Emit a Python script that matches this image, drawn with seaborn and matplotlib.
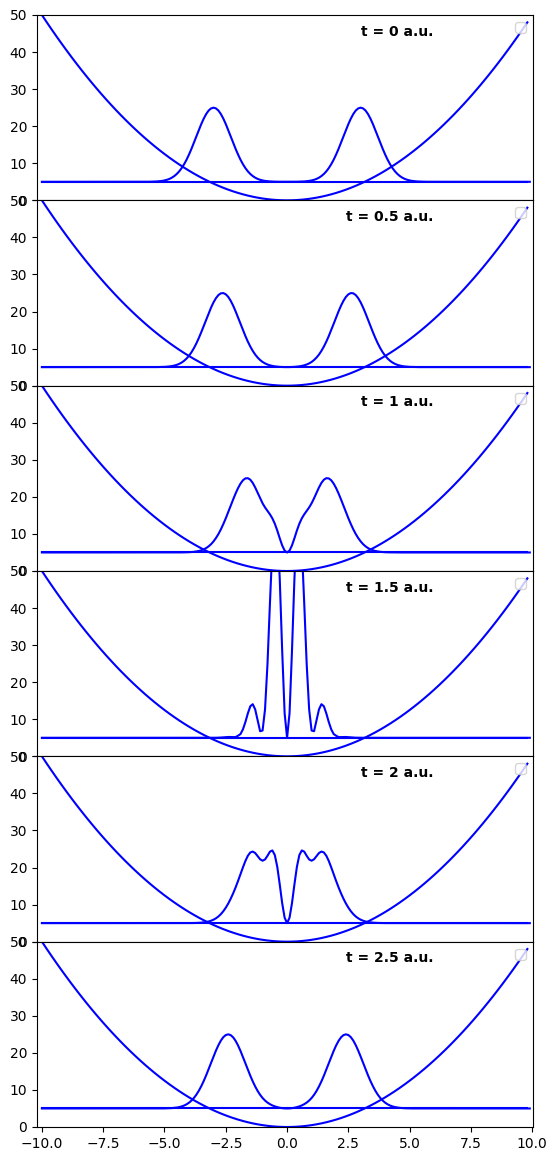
import numpy as np
import matplotlib
matplotlib.use("Agg")
import matplotlib.pyplot as plt
import seaborn as sns

# ---------------- data ----------------
# grid of the potential curve (a.u.)
x_pot = np.round(np.arange(-10.0, 10.0, 0.2), 1)
# grid of the density curves (a.u.)
x_den = np.round(np.arange(-10.0, 10.0, 0.1), 1)

# harmonic potential V(x)
potential = [50.0, 48.02, 46.08, 44.18, 42.32, 40.5, 38.72, 36.98, 35.28, 33.62,
             32.0, 30.42, 28.88, 27.38, 25.92, 24.5, 23.12, 21.78, 20.48, 19.22,
             18.0, 16.82, 15.68, 14.58, 13.52, 12.5, 11.52, 10.58, 9.68, 8.82,
             8.0, 7.22, 6.48, 5.78, 5.12, 4.5, 3.92, 3.38, 2.88, 2.42,
             2.0, 1.62, 1.28, 0.98, 0.72, 0.5, 0.32, 0.18, 0.08, 0.02,
             0.0, 0.02, 0.08, 0.18, 0.32, 0.5, 0.72, 0.98, 1.28, 1.62,
             2.0, 2.42, 2.88, 3.38, 3.92, 4.5, 5.12, 5.78, 6.48, 7.22,
             8.0, 8.82, 9.68, 10.58, 11.52, 12.5, 13.52, 14.58, 15.68, 16.82,
             18.0, 19.22, 20.48, 21.78, 23.12, 24.5, 25.92, 27.38, 28.88, 30.42,
             32.0, 33.62, 35.28, 36.98, 38.72, 40.5, 42.32, 44.18, 46.08, 48.02]

energy_level = 5.0

times = ["0", "0.5", "1", "1.5", "2", "2.5"]

# flat tails of the density (x = -10.0 .. -6.1 and 6.1 .. 9.9)
flat_left = [5.0] * 40
flat_right = [5.0] * 39

# density (offset by the energy level), x = -6.0 .. 6.0 in steps of 0.1
core_t0 = [
    5.00, 5.00, 5.01, 5.01, 5.02, 5.04, 5.06, 5.10, 5.16, 5.24,
    5.37, 5.54, 5.78, 6.11, 6.55, 7.11, 7.82, 8.69, 9.74, 10.96,
    12.36, 13.90, 15.55, 17.25, 18.95, 20.58, 22.04, 23.28, 24.22, 24.80,
    25.00, 24.80, 24.22, 23.28, 22.04, 20.58, 18.95, 17.25, 15.55, 13.90,
    12.36, 10.96, 9.74, 8.69, 7.82, 7.11, 6.55, 6.11, 5.78, 5.54,
    5.37, 5.24, 5.16, 5.10, 5.06, 5.04, 5.02, 5.01, 5.01, 5.00,
    5.00,
    5.00, 5.01, 5.01, 5.02, 5.04, 5.06, 5.10, 5.16, 5.24, 5.37,
    5.54, 5.78, 6.11, 6.55, 7.11, 7.82, 8.69, 9.74, 10.96, 12.36,
    13.90, 15.55, 17.25, 18.95, 20.58, 22.04, 23.28, 24.22, 24.80, 25.00,
    24.80, 24.22, 23.28, 22.04, 20.58, 18.95, 17.25, 15.55, 13.90, 12.36,
    10.96, 9.74, 8.69, 7.82, 7.11, 6.55, 6.11, 5.78, 5.54, 5.37,
    5.24, 5.16, 5.10, 5.06, 5.04, 5.02, 5.01, 5.01, 5.00, 5.00]

core_t05 = [
    5.00, 5.00, 5.00, 5.00, 5.00, 5.01, 5.01, 5.02, 5.03, 5.05,
    5.07, 5.12, 5.18, 5.28, 5.42, 5.61, 5.88, 6.24, 6.71, 7.32,
    8.08, 9.01, 10.12, 11.40, 12.85, 14.43, 16.10, 17.81, 19.50, 21.08,
    22.48, 23.62, 24.45, 24.91, 24.98, 24.65, 23.95, 22.90, 21.59, 20.06,
    18.40, 16.69, 15.00, 13.38, 11.88, 10.54, 9.38, 8.39, 7.58, 6.92,
    6.40, 6.01, 5.71, 5.49, 5.33, 5.21, 5.13, 5.07, 5.03, 5.01,
    5.00,
    5.01, 5.03, 5.07, 5.13, 5.21, 5.33, 5.49, 5.71, 6.01, 6.40,
    6.92, 7.58, 8.39, 9.38, 10.54, 11.88, 13.38, 15.00, 16.69, 18.40,
    20.06, 21.59, 22.90, 23.95, 24.65, 24.98, 24.91, 24.45, 23.62, 22.48,
    21.08, 19.50, 17.81, 16.10, 14.43, 12.85, 11.40, 10.12, 9.01, 8.08,
    7.32, 6.71, 6.24, 5.88, 5.61, 5.42, 5.28, 5.18, 5.12, 5.07,
    5.05, 5.03, 5.02, 5.01, 5.01, 5.00, 5.00, 5.00, 5.00, 5.00]

core_t1 = [
    5.00, 5.00, 5.00, 5.00, 5.00, 5.00, 5.00, 5.00, 5.00, 5.00,
    5.00, 5.00, 5.00, 5.00, 5.00, 5.01, 5.01, 5.02, 5.03, 5.04,
    5.07, 5.11, 5.17, 5.27, 5.40, 5.59, 5.84, 6.19, 6.65, 7.24,
    7.99, 8.90, 9.98, 11.24, 12.67, 14.23, 15.89, 17.60, 19.30, 20.91,
    22.36, 23.58, 24.48, 24.98, 25.04, 24.63, 23.76, 22.53, 21.09, 19.62,
    18.27, 17.15, 16.20, 15.29, 14.20, 12.75, 10.91, 8.84, 6.90, 5.51,
    5.00,
    5.51, 6.90, 8.84, 10.91, 12.75, 14.20, 15.29, 16.20, 17.15, 18.27,
    19.62, 21.09, 22.53, 23.76, 24.63, 25.04, 24.98, 24.48, 23.58, 22.36,
    20.91, 19.30, 17.60, 15.89, 14.23, 12.67, 11.24, 9.98, 8.90, 7.99,
    7.24, 6.65, 6.19, 5.84, 5.59, 5.40, 5.27, 5.17, 5.11, 5.07,
    5.04, 5.03, 5.02, 5.01, 5.01, 5.00, 5.00, 5.00, 5.00, 5.00,
    5.00, 5.00, 5.00, 5.00, 5.00, 5.00, 5.00, 5.00, 5.00, 5.00]

core_t15 = [
    5.00, 5.00, 5.00, 5.00, 5.00, 5.00, 5.00, 5.00, 5.00, 5.00,
    5.00, 5.00, 5.00, 5.00, 5.00, 5.00, 5.00, 5.00, 5.00, 5.00,
    5.00, 5.00, 5.00, 5.00, 5.00, 5.00, 5.00, 5.00, 5.00, 5.00,
    5.01, 5.01, 5.03, 5.07, 5.12, 5.17, 5.22, 5.22, 5.19, 5.20,
    5.56, 6.01, 7.29, 9.26, 11.59, 13.51, 14.07, 12.64, 9.65, 6.77,
    6.96, 12.64, 24.82, 41.17, 56.58, 64.90, 61.88, 48.01, 28.47, 11.61,
    5.00,
    11.61, 28.47, 48.01, 61.88, 64.90, 56.58, 41.17, 24.82, 12.64, 6.96,
    6.77, 9.65, 12.64, 14.07, 13.51, 11.59, 9.26, 7.29, 6.01, 5.56,
    5.20, 5.19, 5.22, 5.22, 5.17, 5.12, 5.07, 5.03, 5.01, 5.01,
    5.00, 5.00, 5.00, 5.00, 5.00, 5.00, 5.00, 5.00, 5.00, 5.00,
    5.00, 5.00, 5.00, 5.00, 5.00, 5.00, 5.00, 5.00, 5.00, 5.00,
    5.00, 5.00, 5.00, 5.00, 5.00, 5.00, 5.00, 5.00, 5.00, 5.00]

core_t2 = [
    5.00, 5.00, 5.00, 5.00, 5.00, 5.00, 5.00, 5.00, 5.00, 5.00,
    5.00, 5.00, 5.00, 5.00, 5.00, 5.00, 5.00, 5.00, 5.00, 5.01,
    5.01, 5.02, 5.03, 5.05, 5.08, 5.13, 5.20, 5.30, 5.44, 5.65,
    5.93, 6.31, 6.80, 7.43, 8.22, 9.17, 10.29, 11.58, 13.03, 14.64,
    16.38, 18.22, 20.06, 21.78, 23.18, 24.07, 24.31, 23.91, 23.08, 22.23,
    21.84, 22.18, 23.16, 24.28, 24.61, 23.36, 20.18, 15.46, 10.39, 6.47,
    5.00,
    6.47, 10.39, 15.46, 20.18, 23.36, 24.61, 24.28, 23.16, 22.18, 21.84,
    22.23, 23.08, 23.91, 24.31, 24.07, 23.18, 21.78, 20.06, 18.22, 16.38,
    14.64, 13.03, 11.58, 10.29, 9.17, 8.22, 7.43, 6.80, 6.31, 5.93,
    5.65, 5.44, 5.30, 5.20, 5.13, 5.08, 5.05, 5.03, 5.02, 5.01,
    5.01, 5.00, 5.00, 5.00, 5.00, 5.00, 5.00, 5.00, 5.00, 5.00,
    5.00, 5.00, 5.00, 5.00, 5.00, 5.00, 5.00, 5.00, 5.00, 5.00]

core_t25 = [
    5.00, 5.00, 5.00, 5.00, 5.00, 5.00, 5.00, 5.00, 5.01, 5.01,
    5.02, 5.04, 5.06, 5.10, 5.16, 5.25, 5.37, 5.55, 5.79, 6.12,
    6.56, 7.13, 7.84, 8.72, 9.78, 11.01, 12.41, 13.95, 15.60, 17.31,
    19.01, 20.63, 22.09, 23.32, 24.24, 24.81, 25.00, 24.79, 24.19, 23.24,
    22.00, 20.52, 18.89, 17.19, 15.48, 13.83, 12.30, 10.92, 9.71, 8.68,
    7.83, 7.14, 6.59, 6.16, 5.82, 5.56, 5.36, 5.20, 5.09, 5.02,
    5.00,
    5.02, 5.09, 5.20, 5.36, 5.56, 5.82, 6.16, 6.59, 7.14, 7.83,
    8.68, 9.71, 10.92, 12.30, 13.83, 15.48, 17.19, 18.89, 20.52, 22.00,
    23.24, 24.19, 24.79, 25.00, 24.81, 24.24, 23.32, 22.09, 20.63, 19.01,
    17.31, 15.60, 13.95, 12.41, 11.01, 9.78, 8.72, 7.84, 7.13, 6.56,
    6.12, 5.79, 5.55, 5.37, 5.25, 5.16, 5.10, 5.06, 5.04, 5.02,
    5.01, 5.01, 5.00, 5.00, 5.00, 5.00, 5.00, 5.00, 5.00, 5.00]

cores = [core_t0, core_t05, core_t1, core_t15, core_t2, core_t25]

# ---------------- plot ----------------
fig, axes = plt.subplots(6, 1, sharex=True, figsize=(5.57, 11.58), dpi=100)
fig.subplots_adjust(left=37 / 557, right=533 / 557, top=1 - 15 / 1158,
                    bottom=1 - 1127 / 1158, hspace=0)

level_line = np.full(len(x_pot), energy_level)

for ax, t, core in zip(axes, times, cores):
    density = np.array(flat_left + core + flat_right)
    n = min(len(density), len(x_den))
    sns.lineplot(x=x_pot, y=potential, ax=ax, color="blue", linewidth=1.5,
                 estimator=None, errorbar=None, sort=False)
    sns.lineplot(x=x_pot, y=level_line, ax=ax, color="blue", linewidth=1.5,
                 estimator=None, errorbar=None, sort=False)
    sns.lineplot(x=x_den[:n], y=density[:n], ax=ax, color="blue", linewidth=1.5,
                 estimator=None, errorbar=None, sort=False)
    ax.set_ylim(0, 50)
    ax.set_xlim(-10.2, 10.03)
    ax.set_xlabel("")
    ax.set_ylabel("")
    ax.text(0.8, 0.888, f"t = {t} a.u.", transform=ax.transAxes,
            ha="right", va="baseline", fontsize=10, fontweight="bold")
    ax.legend(handles=[], labels=[], loc="upper right")

fig.savefig("out.png", dpi=100)
